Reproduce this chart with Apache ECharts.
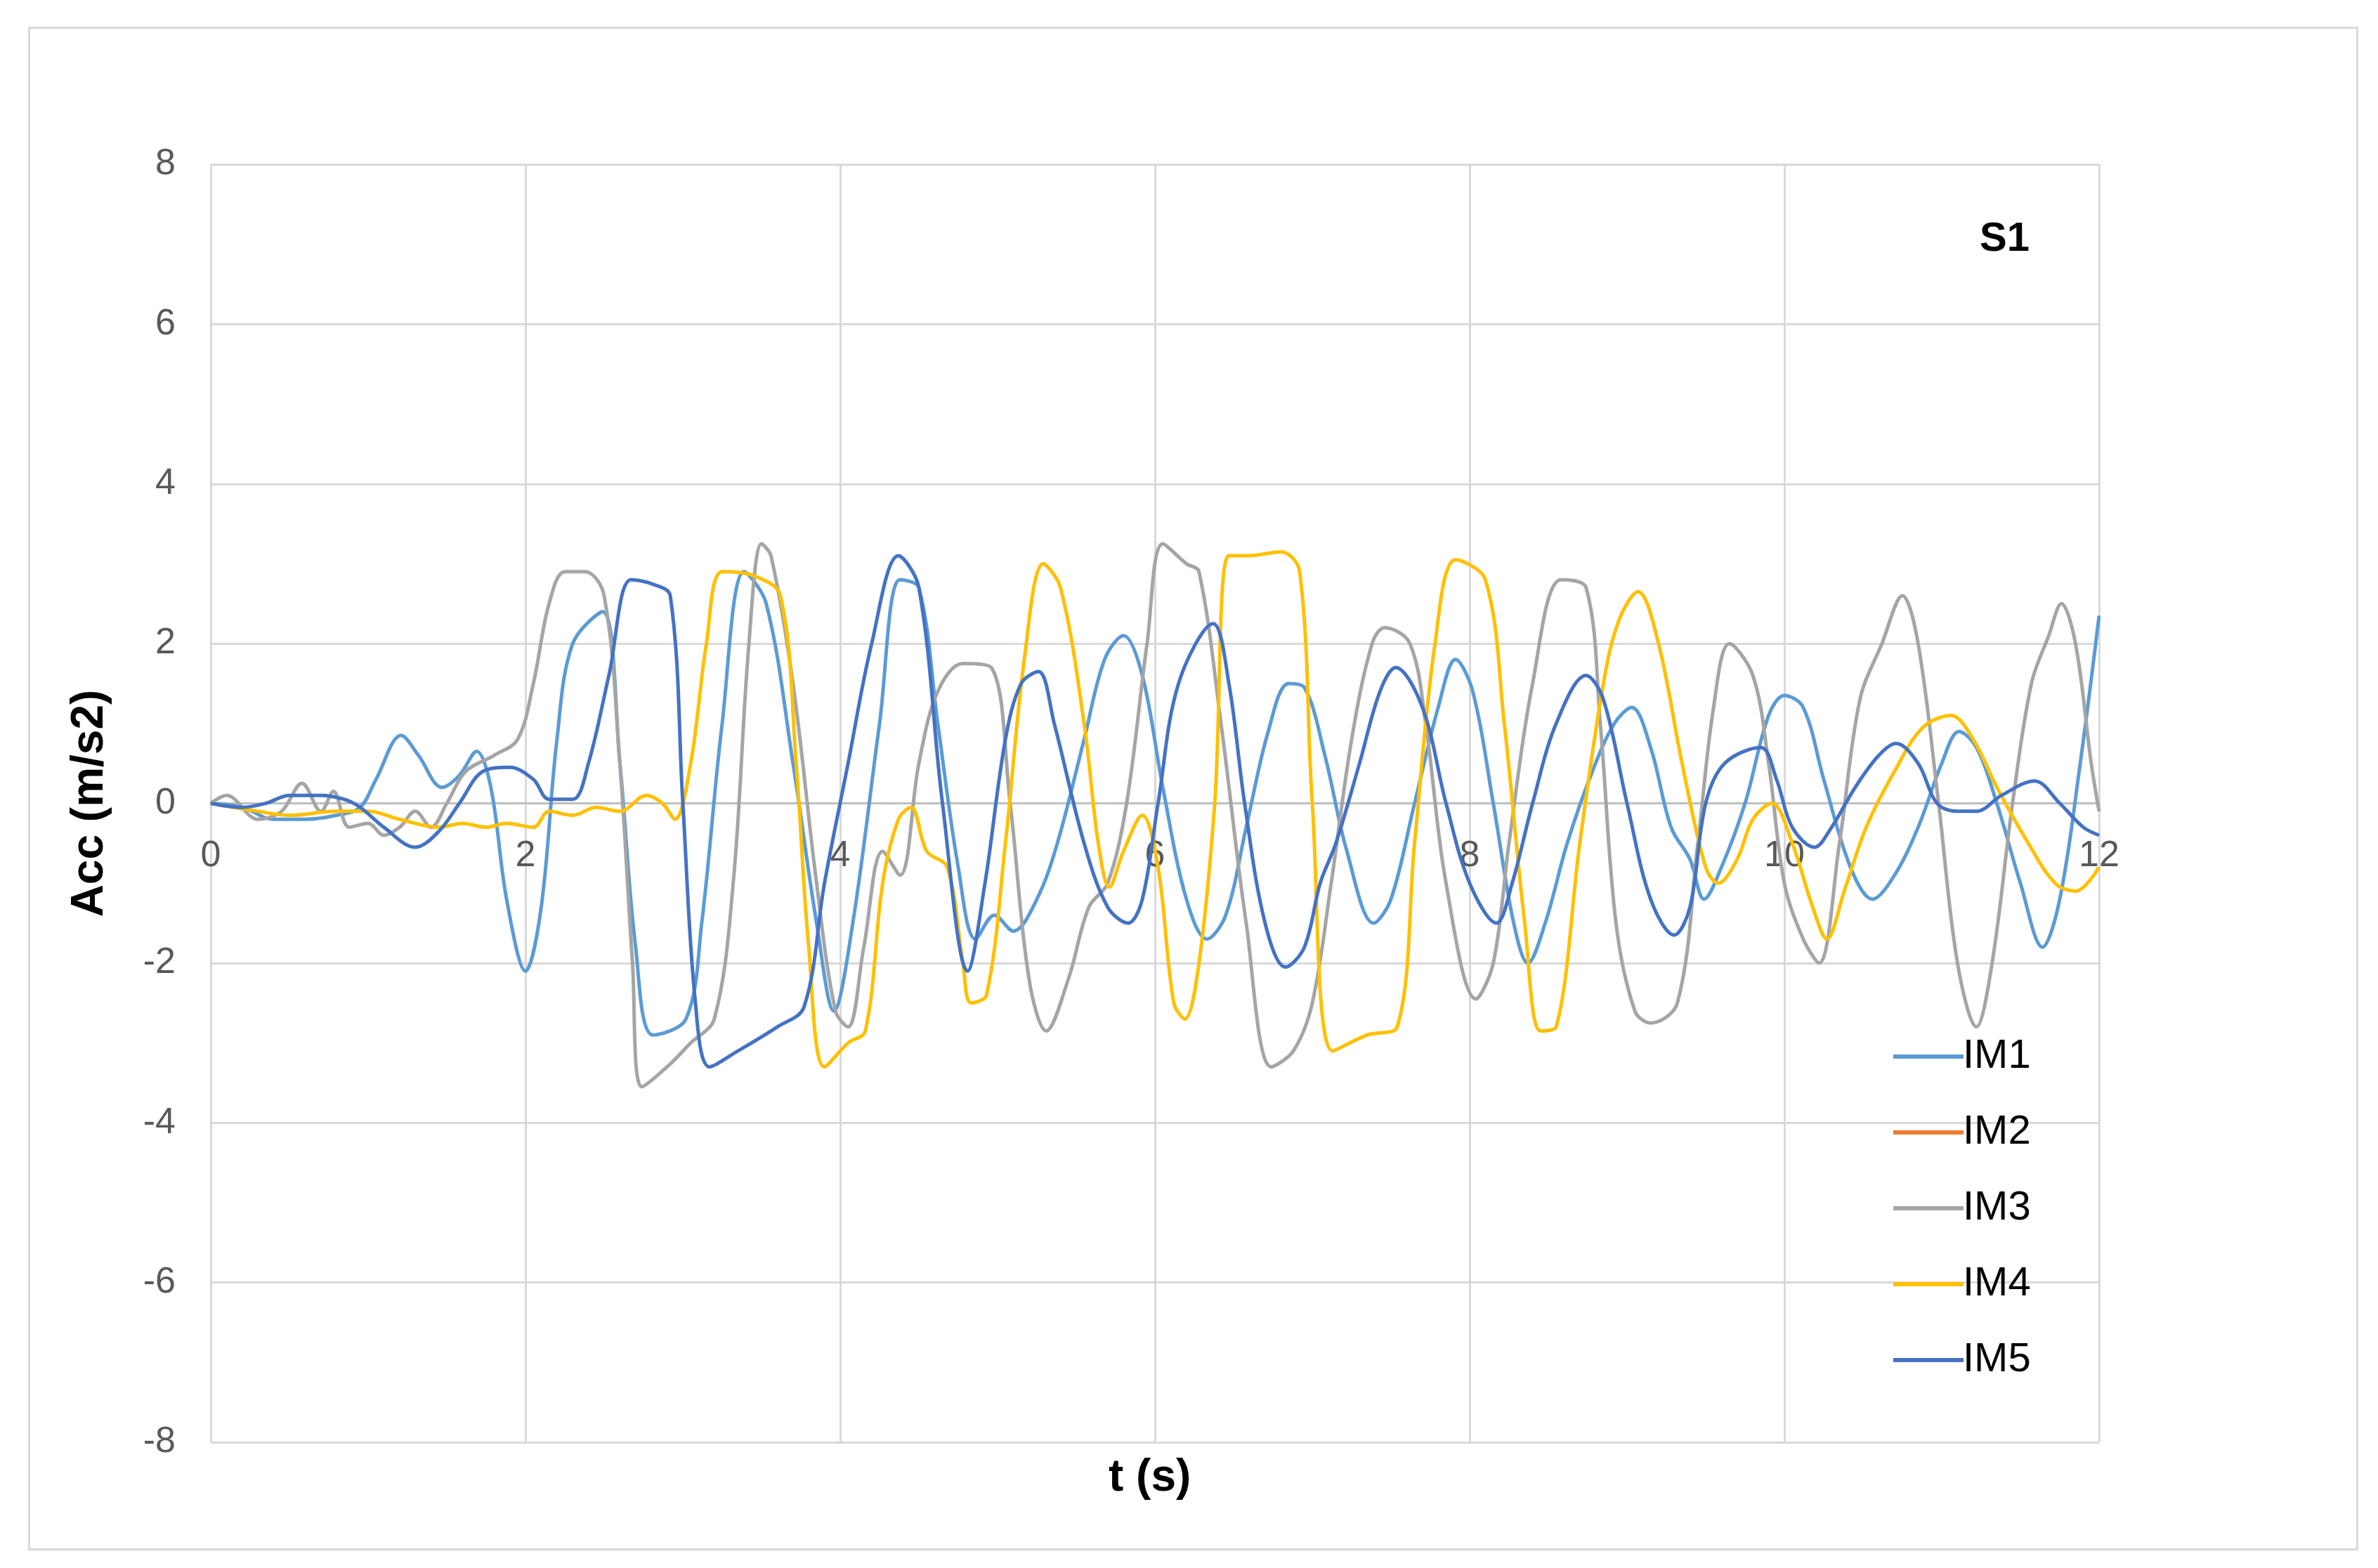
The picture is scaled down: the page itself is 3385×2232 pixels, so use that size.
<!DOCTYPE html>
<html>
<head>
<meta charset="utf-8">
<script src="https://cdn.jsdelivr.net/npm/echarts@6/dist/echarts.min.js"></script>
<style>
  html, body { margin: 0; padding: 0; background: #fff; }
  #chart { width: 3385px; height: 2232px; }
</style>
</head>
<body>
<div id="chart"></div>
<script>
// series data: [t (s), acc (m/s2)]
const IM1 = [[0,0],[0.2,-0.05],[0.4,-0.2],[0.6,-0.2],[0.8,-0.15],[0.95,-0.05],[1.05,0.3],[1.21,0.85],[1.32,0.6],[1.47,0.2],[1.58,0.35],[1.69,0.65],[1.78,0.2],[1.88,-1.2],[2.0,-2.1],[2.1,-1.3],[2.2,0.8],[2.3,2.0],[2.49,2.4],[2.6,0.5],[2.7,-1.8],[2.81,-2.9],[3.02,-2.7],[3.12,-1.5],[3.25,1.0],[3.39,2.9],[3.53,2.5],[3.7,0.5],[3.85,-1.5],[3.96,-2.6],[4.08,-1.5],[4.25,1.0],[4.38,2.8],[4.5,2.7],[4.62,1.0],[4.75,-0.8],[4.86,-1.7],[4.98,-1.4],[5.1,-1.6],[5.25,-1.2],[5.38,-0.5],[5.55,0.8],[5.68,1.8],[5.8,2.1],[5.92,1.6],[6.05,0.2],[6.2,-1.2],[6.33,-1.7],[6.45,-1.4],[6.58,-0.3],[6.72,0.9],[6.85,1.5],[6.95,1.45],[7.08,0.6],[7.22,-0.6],[7.39,-1.5],[7.5,-1.2],[7.65,0.0],[7.8,1.2],[7.91,1.8],[8.02,1.4],[8.15,0.0],[8.28,-1.5],[8.37,-2.0],[8.48,-1.5],[8.62,-0.5],[8.78,0.4],[8.92,1.0],[9.03,1.2],[9.15,0.7],[9.28,-0.3],[9.4,-0.7],[9.49,-1.2],[9.6,-0.8],[9.75,0.0],[9.9,1.1],[10.0,1.35],[10.12,1.2],[10.25,0.3],[10.42,-0.8],[10.56,-1.2],[10.7,-0.9],[10.85,-0.3],[11.0,0.5],[11.11,0.9],[11.22,0.7],[11.35,0.0],[11.5,-1.0],[11.64,-1.8],[11.75,-1.2],[11.88,0.5],[12,2.35]];
const IM2 = [];
const IM3 = [[0,0],[0.1,0.1],[0.3,-0.2],[0.45,-0.1],[0.58,0.25],[0.7,-0.1],[0.78,0.15],[0.88,-0.3],[1.0,-0.25],[1.1,-0.4],[1.2,-0.3],[1.3,-0.1],[1.4,-0.3],[1.5,0],[1.62,0.4],[1.8,0.6],[1.95,0.8],[2.05,1.5],[2.15,2.5],[2.25,2.9],[2.38,2.9],[2.5,2.6],[2.6,0.5],[2.68,-2.0],[2.74,-3.55],[2.9,-3.3],[3.05,-3.0],[3.2,-2.7],[3.32,-1.0],[3.42,2.0],[3.5,3.25],[3.56,3.1],[3.7,1.5],[3.85,-1.0],[3.97,-2.6],[4.05,-2.8],[4.15,-1.8],[4.27,-0.6],[4.38,-0.9],[4.5,0.5],[4.62,1.4],[4.78,1.75],[4.96,1.7],[5.08,0],[5.2,-2.2],[5.31,-2.85],[5.45,-2.2],[5.58,-1.3],[5.7,-1.0],[5.82,0],[5.95,2.0],[6.05,3.25],[6.2,3.0],[6.28,2.9],[6.42,1.0],[6.58,-1.5],[6.74,-3.3],[6.88,-3.1],[7.0,-2.5],[7.12,-1.0],[7.25,0.8],[7.38,2.0],[7.46,2.2],[7.62,2.0],[7.72,1.0],[7.85,-1.0],[8.04,-2.45],[8.15,-2.0],[8.25,-0.5],[8.4,1.5],[8.58,2.8],[8.74,2.7],[8.83,1.0],[8.93,-1.5],[9.05,-2.6],[9.15,-2.75],[9.32,-2.5],[9.45,-0.5],[9.55,1.2],[9.65,2.0],[9.8,1.6],[9.9,0.5],[10.0,-1.0],[10.12,-1.7],[10.22,-2.0],[10.35,-0.5],[10.48,1.3],[10.62,2.0],[10.75,2.6],[10.85,2.0],[10.98,0],[11.1,-2.0],[11.22,-2.8],[11.32,-2.0],[11.45,0],[11.57,1.5],[11.68,2.1],[11.76,2.5],[11.85,2.0],[11.95,0.5],[12,-0.1]];
const IM4 = [[0,0],[0.3,-0.1],[0.5,-0.15],[0.8,-0.1],[1.0,-0.1],[1.2,-0.2],[1.45,-0.3],[1.6,-0.25],[1.75,-0.3],[1.88,-0.25],[2.05,-0.3],[2.15,-0.1],[2.3,-0.15],[2.45,-0.05],[2.6,-0.1],[2.77,0.1],[2.87,0.0],[2.95,-0.2],[3.05,0.5],[3.15,2.0],[3.25,2.9],[3.45,2.85],[3.62,2.6],[3.72,0.5],[3.8,-1.8],[3.9,-3.3],[4.05,-3.0],[4.16,-2.85],[4.27,-1.0],[4.37,-0.2],[4.45,-0.05],[4.55,-0.6],[4.68,-0.8],[4.78,-2.0],[4.83,-2.5],[4.93,-2.4],[5.05,-0.5],[5.17,1.8],[5.29,3.0],[5.4,2.7],[5.55,1.0],[5.64,-0.5],[5.71,-1.05],[5.8,-0.6],[5.92,-0.15],[6.02,-0.8],[6.12,-2.5],[6.19,-2.7],[6.28,-2.0],[6.38,0.0],[6.47,3.1],[6.6,3.1],[6.8,3.15],[6.92,2.9],[7.0,0.0],[7.13,-3.1],[7.35,-2.9],[7.54,-2.8],[7.65,-0.5],[7.78,2.0],[7.91,3.05],[8.1,2.8],[8.22,1.0],[8.35,-1.5],[8.45,-2.85],[8.55,-2.8],[8.7,-0.5],[8.85,1.5],[8.95,2.3],[9.07,2.65],[9.2,2.0],[9.35,0.5],[9.5,-0.8],[9.58,-1.0],[9.7,-0.7],[9.8,-0.2],[9.92,0.0],[10.05,-0.5],[10.18,-1.3],[10.27,-1.7],[10.38,-1.1],[10.52,-0.3],[10.7,0.4],[10.88,0.95],[11.06,1.1],[11.2,0.8],[11.35,0.2],[11.55,-0.5],[11.72,-1.0],[11.85,-1.1],[12,-0.8]];
const IM5 = [[0,0],[0.2,-0.05],[0.35,0.0],[0.5,0.1],[0.7,0.1],[0.85,0.05],[0.95,-0.05],[1.1,-0.3],[1.3,-0.55],[1.45,-0.35],[1.58,0.0],[1.73,0.4],[1.9,0.45],[2.05,0.3],[2.15,0.05],[2.3,0.05],[2.4,0.5],[2.53,1.6],[2.67,2.8],[2.8,2.75],[2.92,2.6],[3.0,0.0],[3.08,-2.5],[3.17,-3.3],[3.35,-3.1],[3.6,-2.8],[3.77,-2.55],[3.9,-1.0],[4.05,0.5],[4.2,2.0],[4.37,3.1],[4.5,2.7],[4.65,0.0],[4.81,-2.1],[4.92,-1.0],[5.05,0.8],[5.15,1.5],[5.26,1.65],[5.36,1.0],[5.55,-0.5],[5.7,-1.3],[5.83,-1.5],[5.92,-1.2],[6.02,0.0],[6.15,1.5],[6.37,2.25],[6.47,1.5],[6.57,0.0],[6.7,-1.5],[6.83,-2.05],[6.95,-1.8],[7.05,-1.0],[7.15,-0.5],[7.3,0.5],[7.43,1.4],[7.53,1.7],[7.7,1.2],[7.85,0.0],[8.0,-1.0],[8.17,-1.5],[8.27,-1.0],[8.4,0.0],[8.55,1.0],[8.74,1.6],[8.85,1.3],[9.0,0.0],[9.15,-1.2],[9.3,-1.65],[9.4,-1.3],[9.5,0.0],[9.62,0.5],[9.85,0.7],[9.95,0.3],[10.05,-0.3],[10.19,-0.55],[10.3,-0.3],[10.45,0.2],[10.6,0.6],[10.71,0.75],[10.85,0.5],[10.97,0.0],[11.1,-0.1],[11.22,-0.1],[11.38,0.1],[11.59,0.28],[11.75,0.0],[11.9,-0.3],[12,-0.4]];

const seriesNames = ["IM1", "IM2", "IM3", "IM4", "IM5"];
const seriesData = [IM1, IM2, IM3, IM4, IM5];
const colors = ["#5B9BD5", "#ED7D31", "#A5A5A5", "#FFC000", "#4472C4"];

const chart = echarts.init(document.getElementById("chart"));

// grid: top 234, bottom edge at 2053 -> zero line at 1143.5
chart.setOption({
  animation: false,
  backgroundColor: "#fff",
  color: colors,
  textStyle: { fontFamily: "Liberation Sans, Arial, sans-serif" },
  grid: { left: 300, right: 397, top: 234, bottom: 179, outerBoundsMode: "none", containLabel: false },
  graphic: [
    {
      type: "rect", left: 39, top: 37,
      shape: { width: 3314, height: 2166 },
      style: { fill: "none", stroke: "#d9d9d9", lineWidth: 3 }
    },
    {
      type: "text", left: 2818, top: 312,
      style: { text: "S1", fill: "#000", font: "bold 58px Liberation Sans, Arial" }
    },
    {
      type: "text", left: 1578, top: 2072,
      style: { text: "t (s)", fill: "#000", font: "bold 64px Liberation Sans, Arial" }
    }
  ],
  legend: {
    orient: "vertical",
    left: 2690, top: 1470,
    icon: "rect",
    itemWidth: 100, itemHeight: 6,
    itemGap: 50,
    textStyle: { fontSize: 58, color: "#000", padding: [0, 0, 0, -6] },
    data: seriesNames
  },
  xAxis: {
    type: "value",
    min: 0, max: 12, interval: 2,
    offset: -910,
    axisLine: { onZero: false, lineStyle: { color: "#bfbfbf", width: 3 } },
    axisTick: { show: false },
    axisLabel: { fontSize: 52, color: "#595959", margin: 50 },
    splitLine: { show: true, lineStyle: { color: "#d9d9d9", width: 3 } }
  },
  yAxis: {
    type: "value",
    min: -8, max: 8, interval: 2,
    name: "Acc (m/s2)",
    nameLocation: "middle",
    nameGap: 140,
    nameTextStyle: { fontSize: 64, fontWeight: "bold", color: "#000" },
    axisLine: { show: false },
    axisTick: { show: false },
    axisLabel: { fontSize: 52, color: "#595959", margin: 50 },
    splitLine: { show: true, lineStyle: { color: "#d9d9d9", width: 3 } }
  },
  series: seriesNames.map((name, i) => ({
    name: name,
    type: "line",
    data: seriesData[i],
    showSymbol: false,
    smooth: 0.35,
    lineStyle: { width: 5, color: colors[i] },
    itemStyle: { color: colors[i] }
  }))
});
</script>
</body>
</html>
